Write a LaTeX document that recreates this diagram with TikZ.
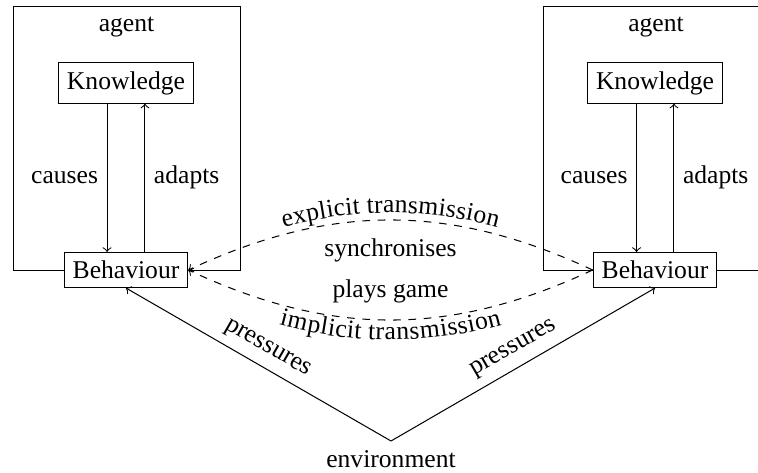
\documentclass[tikz,border=0pt]{standalone}
\usepackage{fontspec}
\setmainfont{Liberation Serif}
\usetikzlibrary{decorations.text}
\begin{document}
\begin{tikzpicture}[x=0.3906pt, y=-0.3906pt,
  box/.style={draw, fill=white, inner sep=3.333pt},
  agentbox/.style={draw, minimum width=88.66pt, minimum height=103.1pt, anchor=north west, inner sep=0pt},
  link/.style={->, dashed},
  arc/.style={->}
]
\clip (0,0) rectangle (758,472);
% agents
\node[agentbox] (A1) at (13,6) {};
\node[anchor=base] (a1) at (126.5,32) {agent};
\node[agentbox] (A2) at (543,6) {};
\node[anchor=base] (a2) at (656,32) {agent};
\node[box] (K1) at (126,83) {Knowledge};
\node[box] (B1) at (126,270) {Behaviour};
\node[box] (K2) at (655,83) {Knowledge};
\node[box] (B2) at (655,270) {Behaviour};
\node[anchor=north] (env) at (391,441) {environment};
% internal arrows
\draw[arc] ([xshift=-7.4pt]K1.south) -- node[left]{causes} ([xshift=-7.4pt]B1.north);
\draw[arc] ([xshift=7.4pt]B1.north) -- node[right]{adapts} ([xshift=7.4pt]K1.south);
\draw[arc] ([xshift=-7.2pt]K2.south) -- node[left]{causes} ([xshift=-7.2pt]B2.north);
\draw[arc] ([xshift=7.4pt]B2.north) -- node[right]{adapts} ([xshift=7.4pt]K2.south);
% transmissions
\draw[link] (B2.west) to[bend right=25] node[below=3.9pt]{synchronises} (B1.east);
\draw[link] (B2.west) to[bend left=25] node[above=3.1pt]{plays game} (B1.east);
\path[decorate, decoration={text along path, text align=center, raise=2.8pt, text={explicit transmission}}]
  (B1.east) to[bend left=25] (B2.west);
\path[decorate, decoration={text along path, text align=center, raise=-7.8pt, text={implicit transmission}}]
  (B1.east) to[bend right=25] (B2.west);
% environment
\draw[arc] (env.north) -- node[sloped, above]{pressures} (B1.south);
\draw[arc] (env.north) -- node[sloped, above]{pressures} (B2.south);
\end{tikzpicture}
\end{document}
